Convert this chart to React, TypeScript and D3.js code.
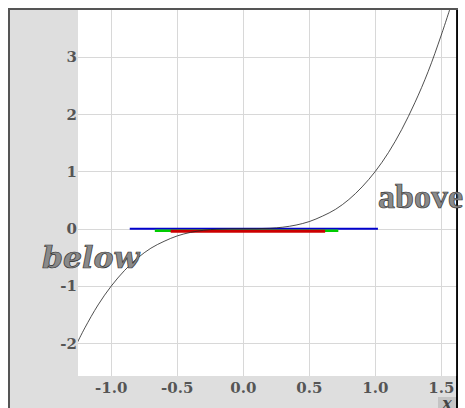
import * as d3 from 'd3';
import React from 'react';

// curve samples
const curveX = [-1.26, -1.2, -1.1, -1.0, -0.9, -0.8, -0.7, -0.6, -0.5, -0.4, -0.3, -0.2, -0.1, 0.0,
    0.1, 0.2, 0.3, 0.4, 0.5, 0.6, 0.7, 0.8, 0.9, 1.0, 1.1, 1.2, 1.3, 1.4, 1.5, 1.58];
const curveY = [-2.0, -1.73, -1.33, -1.0, -0.73, -0.51, -0.34, -0.22, -0.125, -0.064, -0.027, -0.008, -0.001, 0.0,
    0.001, 0.008, 0.027, 0.064, 0.125, 0.22, 0.34, 0.51, 0.73, 1.0, 1.33, 1.73, 2.2, 2.74, 3.38, 3.94];

// horizontal range bars
const barNames = ['blue', 'green', 'red'];
const barStart = [-0.86, -0.67, -0.55];
const barEnd = [1.02, 0.72, 0.62];
const barLevel = [0.0, -0.035, -0.045];

const xTicks = [-1.0, -0.5, 0.0, 0.5, 1.0, 1.5];
const yTicks = [-2, -1, 0, 1, 2, 3];

const barColor = { blue: '#0000cc', green: '#00cc00', red: '#cc0000' };
const barWidth = { blue: 2.2, green: 2.6, red: 3 };

export default function App() {
    const left = 78, right = 457, top = 10, bottom = 376;
    const x = d3.scaleLinear().domain([-1.252, 1.619]).range([left, right]);
    const y = d3.scaleLinear().domain([-2.57, 3.817]).range([bottom, top]);

    const line = d3.line<number>()
        .x(i => x(curveX[i]))
        .y(i => y(curveY[i]))
        .curve(d3.curveCatmullRom);
    const path = line(d3.range(curveX.length));

    const tickFont = { fontFamily: '"DejaVu Serif", serif', fontWeight: 'bold', fontSize: 15 };

    return (
        <svg width={465} height={408} style={{ position: 'absolute', left: 0, top: 0 }}>
            <defs>
                <clipPath id="plot">
                    <rect x={left} y={top} width={right - left} height={bottom - top} />
                </clipPath>
            </defs>
            <rect x={9} y={9} width={448} height={410} fill="#dedede" stroke="#555" strokeWidth={2} />
            <rect x={left} y={top} width={right - left} height={bottom - top} fill="#fff" />
            <g stroke="#d8d8d8" strokeWidth={1}>
                {xTicks.map(t => (
                    <line key={'x' + t} x1={Math.round(x(t)) + 0.5} x2={Math.round(x(t)) + 0.5} y1={top} y2={bottom} />
                ))}
                {yTicks.map(t => (
                    <line key={'y' + t} y1={Math.round(y(t)) + 0.5} y2={Math.round(y(t)) + 0.5} x1={left} x2={right} />
                ))}
            </g>
            <g clipPath="url(#plot)">
                {barNames.map((n, i) => (
                    <line key={n} x1={x(barStart[i])} x2={x(barEnd[i])} y1={y(barLevel[i])} y2={y(barLevel[i])}
                        stroke={barColor[n]} strokeWidth={barWidth[n]} />
                ))}
                <path d={path} fill="none" stroke="#222" strokeWidth={0.8} />
            </g>
            <line x1={457} x2={457} y1={10} y2={408} stroke="#000" strokeWidth={1.8} />
            <g fill="#555" {...tickFont}>
                {yTicks.map(t => (
                    <text key={t} x={left - 1} y={y(t)} dy="0.36em" textAnchor="end">
                        {t < 0 ? '-' + Math.abs(t) : t}
                    </text>
                ))}
                {xTicks.map(t => (
                    <text key={t} x={x(t)} y={393} textAnchor="middle">
                        {(t < 0 ? '-' : '') + Math.abs(t).toFixed(1)}
                    </text>
                ))}
            </g>
            <rect x={438} y={397} width={18} height={12} fill="#c4c4c4" />
            <text x={447} y={409} textAnchor="middle" fill="#444" fontFamily='"DejaVu Serif", serif'
                fontStyle="italic" fontWeight="bold" fontSize={16}>x</text>
            <text x={378} y={208} fill="#8a8a8a" stroke="#333" strokeWidth={0.7}
                fontFamily='"Liberation Serif", serif' fontWeight="bold" fontSize={34}>above</text>
            <text x={42} y={268} fill="#8a8a8a" stroke="#333" strokeWidth={0.7}
                fontFamily='"DejaVu Serif", serif' fontWeight="bold" fontStyle="italic" fontSize={30}>below</text>
        </svg>
    );
}
